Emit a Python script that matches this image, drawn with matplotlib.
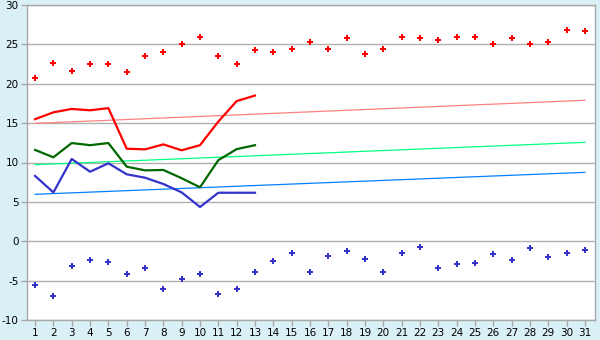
import matplotlib
matplotlib.use("Agg")
import matplotlib.pyplot as plt

plt.rcParams["axes.unicode_minus"] = False

days = list(range(1, 32))
max_temps = [20.7, 22.6, 21.6, 22.5, 22.5, 21.45, 23.5, 24.0, 25.1, 25.9,
             23.5, 22.5, 24.25, 24.0, 24.37, 25.26, 24.37, 25.77, 23.74, 24.37,
             25.9, 25.77, 25.5, 26.0, 25.9, 25.0, 25.77, 25.0, 25.26, 26.8, 26.65]
min_temps = [-5.6, -7.0, -3.2, -2.4, -2.67, -4.2, -3.44, -6.1, -4.83, -4.2,
             -6.74, -6.1, -3.94, -2.55, -1.53, -3.94, -1.91, -1.28, -2.3, -3.94,
             -1.53, -0.77, -3.44, -2.93, -2.8, -1.66, -2.42, -0.9, -2.04, -1.53, -1.15]
line_days = list(range(1, 14))
red_line = [15.5, 16.37, 16.8, 16.63, 16.9, 11.75, 11.67, 12.3, 11.55, 12.2, 15.2, 17.8, 18.5]
green_line = [11.6, 10.66, 12.47, 12.2, 12.47, 9.47, 9.0, 9.05, 8.0, 6.85, 10.3, 11.7, 12.2]
blue_line = [8.3, 6.2, 10.45, 8.83, 9.9, 8.5, 8.07, 7.27, 6.2, 4.35, 6.16, 6.16, 6.16]
trend_days = [1, 31]
red_trend = [14.97, 17.9]
green_trend = [9.72, 12.56]
blue_trend = [5.96, 8.75]

fig = plt.figure(figsize=(6, 3.4), dpi=100)
fig.patch.set_facecolor("#daf0f7")
ax = fig.add_axes([27/600, 20/340, 568/600, 315/340])
ax.set_facecolor("white")

ax.set_xlim(0.56, 31.55)
ax.set_ylim(-10, 30)
ax.set_yticks(range(-10, 31, 5))
ax.set_xticks(days)
ax.grid(axis="y", color="#b0b0b0", linewidth=1)
ax.set_axisbelow(True)
for s in ax.spines.values():
    s.set_color("#a8a8a8")
    s.set_linewidth(1)
ax.tick_params(axis="both", labelsize=7.5, colors="#a8a8a8", labelcolor="black", length=4, width=1, pad=2)

ax.plot(trend_days, red_trend, color="#ff8080", linewidth=0.9)
ax.plot(trend_days, green_trend, color="#00ff80", linewidth=0.9)
ax.plot(trend_days, blue_trend, color="#0080ff", linewidth=0.9)

ax.plot(line_days, red_line, color="#ff0000", linewidth=1.6)
ax.plot(line_days, green_line, color="#006600", linewidth=1.6)
ax.plot(line_days, blue_line, color="#3333cc", linewidth=1.6)

ax.plot(days, max_temps, linestyle="none", marker="P", markersize=5, color="#ff0000", markeredgewidth=0)
ax.plot(days, min_temps, linestyle="none", marker="P", markersize=5, color="#3333cc", markeredgewidth=0)

fig.savefig("out.png", dpi=100, facecolor=fig.get_facecolor())
